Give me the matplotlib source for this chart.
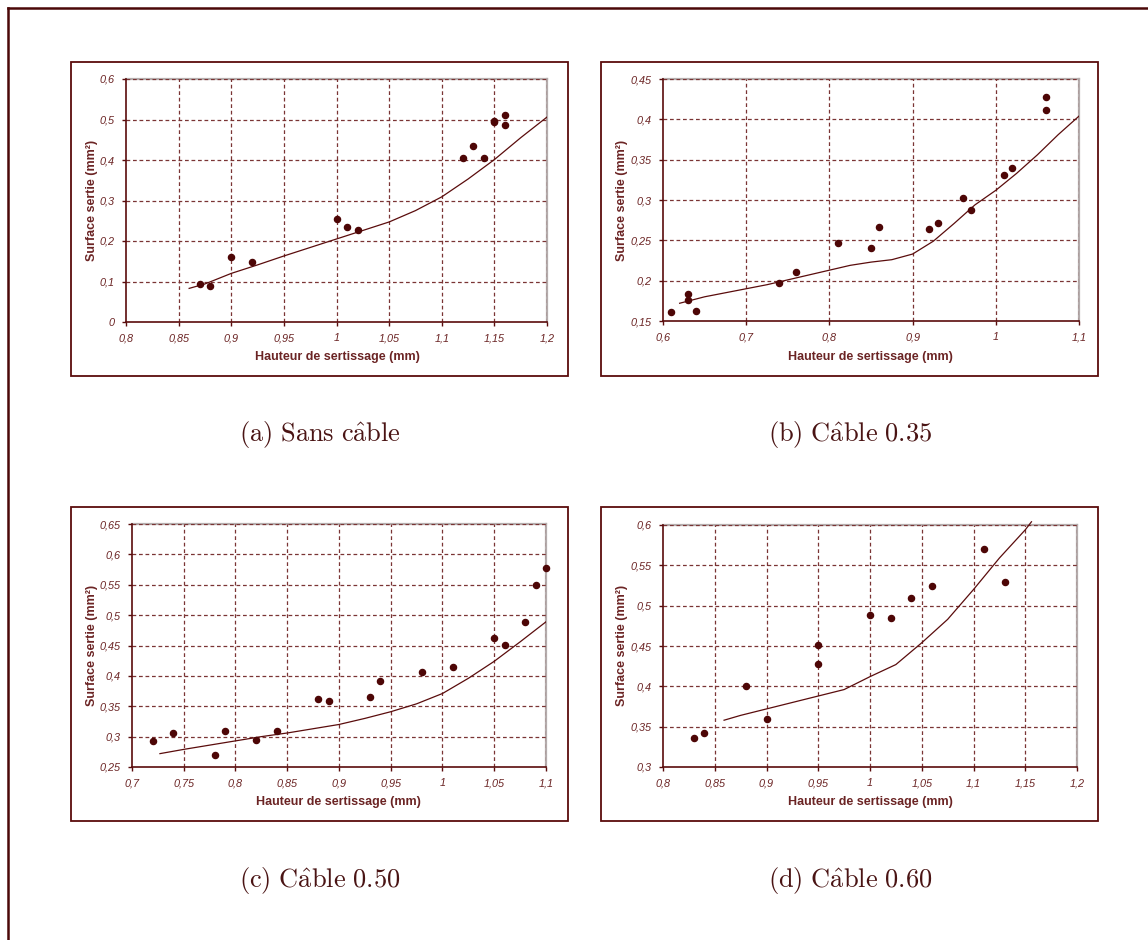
import matplotlib
matplotlib.use("Agg")
import matplotlib.pyplot as plt
from matplotlib.patches import Rectangle
from matplotlib.lines import Line2D
from matplotlib.ticker import FuncFormatter

plt.rcParams['mathtext.fontset'] = 'cm'

# ---------------- data ----------------
# (a) Sans câble
a_x = [0.87, 0.88, 0.90, 0.92, 1.00, 1.01, 1.02, 1.12, 1.13, 1.14, 1.15, 1.15, 1.16, 1.16]
a_y = [0.093, 0.090, 0.161, 0.148, 0.254, 0.235, 0.228, 0.404, 0.434, 0.404, 0.495, 0.497, 0.510, 0.487]
a_fit_x = [0.86, 0.875, 0.90, 0.925, 0.95, 0.975, 1.00, 1.025, 1.05, 1.075, 1.10, 1.125, 1.15, 1.175, 1.20, 1.203]
a_fit_y = [0.083, 0.094, 0.120, 0.141, 0.163, 0.184, 0.205, 0.226, 0.247, 0.275, 0.309, 0.353, 0.401, 0.455, 0.506, 0.514]

# (b) Câble 0.35
b_x = [0.61, 0.63, 0.63, 0.64, 0.74, 0.76, 0.81, 0.85, 0.86, 0.92, 0.93, 0.96, 0.97, 1.01, 1.02, 1.06, 1.06]
b_y = [0.161, 0.183, 0.176, 0.162, 0.197, 0.211, 0.247, 0.241, 0.266, 0.264, 0.272, 0.302, 0.287, 0.331, 0.340, 0.411, 0.428]
b_fit_x = [0.62, 0.65, 0.675, 0.70, 0.725, 0.75, 0.775, 0.80, 0.825, 0.85, 0.875, 0.90, 0.925, 0.95, 0.975, 1.00, 1.025, 1.05, 1.075, 1.10, 1.104]
b_fit_y = [0.172, 0.180, 0.185, 0.190, 0.195, 0.201, 0.207, 0.213, 0.219, 0.223, 0.226, 0.233, 0.249, 0.271, 0.294, 0.312, 0.333, 0.356, 0.381, 0.404, 0.409]

# (c) Câble 0.50
c_x = [0.72, 0.74, 0.78, 0.79, 0.82, 0.84, 0.88, 0.89, 0.93, 0.94, 0.98, 1.01, 1.05, 1.06, 1.08, 1.09, 1.10]
c_y = [0.293, 0.306, 0.269, 0.310, 0.294, 0.309, 0.362, 0.358, 0.365, 0.392, 0.406, 0.414, 0.462, 0.451, 0.489, 0.549, 0.578]
c_fit_x = [0.727, 0.75, 0.775, 0.80, 0.825, 0.85, 0.875, 0.90, 0.925, 0.95, 0.975, 1.00, 1.025, 1.05, 1.075, 1.10, 1.104]
c_fit_y = [0.272, 0.279, 0.286, 0.293, 0.300, 0.306, 0.313, 0.320, 0.330, 0.341, 0.354, 0.371, 0.396, 0.424, 0.456, 0.489, 0.495]

# (d) Câble 0.60
d_x = [0.83, 0.84, 0.88, 0.90, 0.95, 0.95, 1.00, 1.02, 1.04, 1.06, 1.11, 1.13]
d_y = [0.336, 0.342, 0.401, 0.359, 0.451, 0.428, 0.488, 0.485, 0.510, 0.525, 0.570, 0.529]
d_fit_x = [0.859, 0.875, 0.90, 0.925, 0.95, 0.975, 1.00, 1.025, 1.05, 1.075, 1.10, 1.125, 1.15, 1.156]
d_fit_y = [0.358, 0.364, 0.372, 0.380, 0.388, 0.396, 0.412, 0.427, 0.454, 0.483, 0.520, 0.559, 0.594, 0.604]

x_ticks_a = [0.8, 0.85, 0.9, 0.95, 1.0, 1.05, 1.1, 1.15, 1.2]
y_ticks_a = [0, 0.1, 0.2, 0.3, 0.4, 0.5, 0.6]
x_ticks_b = [0.6, 0.7, 0.8, 0.9, 1.0, 1.1]
y_ticks_b = [0.15, 0.2, 0.25, 0.3, 0.35, 0.4, 0.45]
x_ticks_c = [0.7, 0.75, 0.8, 0.85, 0.9, 0.95, 1.0, 1.05, 1.1]
y_ticks_c = [0.25, 0.3, 0.35, 0.4, 0.45, 0.5, 0.55, 0.6, 0.65]
x_ticks_d = [0.8, 0.85, 0.9, 0.95, 1.0, 1.05, 1.1, 1.15, 1.2]
y_ticks_d = [0.3, 0.35, 0.4, 0.45, 0.5, 0.55, 0.6]

captions = [r"$\mathrm{(a)\ Sans\ c\hat{a}ble}$",
            r"$\mathrm{(b)\ C\hat{a}ble\ 0.35}$",
            r"$\mathrm{(c)\ C\hat{a}ble\ 0.50}$",
            r"$\mathrm{(d)\ C\hat{a}ble\ 0.60}$"]
x_label = "Hauteur de sertissage (mm)"
y_label = "Surface sertie (mm²)"

# ---------------- style ----------------
W, H = 1148, 940
MAROON = "#5a0c0c"
TEXT = "#6b2424"
GRID = "#7a3434"
GRAY = "#b4acac"
FONT = "Liberation Sans"

fig = plt.figure(figsize=(W / 100, H / 100), dpi=100)


def fx(px):
    return px / W


def fy(py):
    return 1 - py / H


# outer frame (top and left lines)
fig.add_artist(Line2D([fx(8), 1.0], [fy(8), fy(8)], color="#4a0808", lw=1.8))
fig.add_artist(Line2D([fx(8), fx(8)], [fy(8), 0.0], color="#4a0808", lw=1.8))


def fmt(v, pos):
    s = ("%.2f" % v).rstrip("0").rstrip(".")
    return s.replace(".", ",")


panels = [
    dict(box=(71, 62, 568, 376), area=(126, 79, 547, 322), x=a_x, y=a_y, fx_=a_fit_x, fy_=a_fit_y,
         xt=x_ticks_a, yt=y_ticks_a, ylab=(92, 200), xlab=(337, 357), cap=(320, 435)),
    dict(box=(601, 62, 1098, 376), area=(663, 79, 1079, 321), x=b_x, y=b_y, fx_=b_fit_x, fy_=b_fit_y,
         xt=x_ticks_b, yt=y_ticks_b, ylab=(622, 200), xlab=(870, 357), cap=(850, 435)),
    dict(box=(71, 507, 568, 821), area=(132, 524, 546, 767), x=c_x, y=c_y, fx_=c_fit_x, fy_=c_fit_y,
         xt=x_ticks_c, yt=y_ticks_c, ylab=(92, 645), xlab=(338, 802), cap=(320, 880)),
    dict(box=(601, 507, 1098, 821), area=(663, 525, 1077, 767), x=d_x, y=d_y, fx_=d_fit_x, fy_=d_fit_y,
         xt=x_ticks_d, yt=y_ticks_d, ylab=(622, 645), xlab=(870, 802), cap=(850, 880)),
]

for i, p in enumerate(panels):
    x0, y0, x1, y1 = p["box"]
    fig.add_artist(Rectangle((fx(x0), fy(y1)), fx(x1 - x0), (y1 - y0) / H,
                             transform=fig.transFigure, fill=False,
                             edgecolor=MAROON, lw=1.3))
    l, t, r, b = p["area"]
    ax = fig.add_axes([fx(l), fy(b), (r - l) / W, (b - t) / H])
    ax.set_xlim(p["xt"][0], p["xt"][-1])
    ax.set_ylim(p["yt"][0], p["yt"][-1])
    ax.set_xticks(p["xt"])
    ax.set_yticks(p["yt"])
    ax.xaxis.set_major_formatter(FuncFormatter(fmt))
    ax.yaxis.set_major_formatter(FuncFormatter(fmt))
    for v in p["xt"][1:]:
        ax.axvline(v, color=GRID, lw=0.9, ls=(0, (3, 2.2)), zorder=1)
    for v in p["yt"][1:]:
        ax.axhline(v, color=GRID, lw=0.9, ls=(0, (3, 2.2)), zorder=1)
    ax.spines["left"].set_color(MAROON)
    ax.spines["bottom"].set_color(MAROON)
    ax.spines["left"].set_linewidth(1.2)
    ax.spines["bottom"].set_linewidth(1.2)
    ax.spines["top"].set_color(GRAY)
    ax.spines["right"].set_color(GRAY)
    ax.spines["top"].set_linewidth(1.6)
    ax.spines["right"].set_linewidth(1.6)
    ax.spines["top"].set_zorder(0.5)
    ax.spines["right"].set_zorder(0.5)
    ax.tick_params(axis="both", direction="out", length=3, width=1, color=MAROON,
                   labelcolor=TEXT, labelsize=7.8, pad=5)
    for lab in ax.get_xticklabels() + ax.get_yticklabels():
        lab.set_fontstyle("italic")
        lab.set_family(FONT)
    ax.plot(p["fx_"], p["fy_"], color=MAROON, lw=0.9, zorder=3, clip_on=(i != 3))
    ax.plot(p["x"], p["y"], ls="none", marker="o", ms=4.4, color="#4d0606",
            mec="#4d0606", zorder=4, clip_on=False)

    fig.text(fx(p["ylab"][0]), fy(p["ylab"][1]), y_label, rotation=90, ha="center", va="center",
             color=TEXT, fontsize=9, fontweight="bold", family=FONT)
    fig.text(fx(p["xlab"][0]), fy(p["xlab"][1]), x_label, ha="center", va="center",
             color=TEXT, fontsize=9, fontweight="bold", family=FONT)
    fig.text(fx(p["cap"][0]), fy(p["cap"][1]), captions[i], ha="center", va="center",
             color="#4a1414", fontsize=19)

fig.savefig("out.png", dpi=100)
